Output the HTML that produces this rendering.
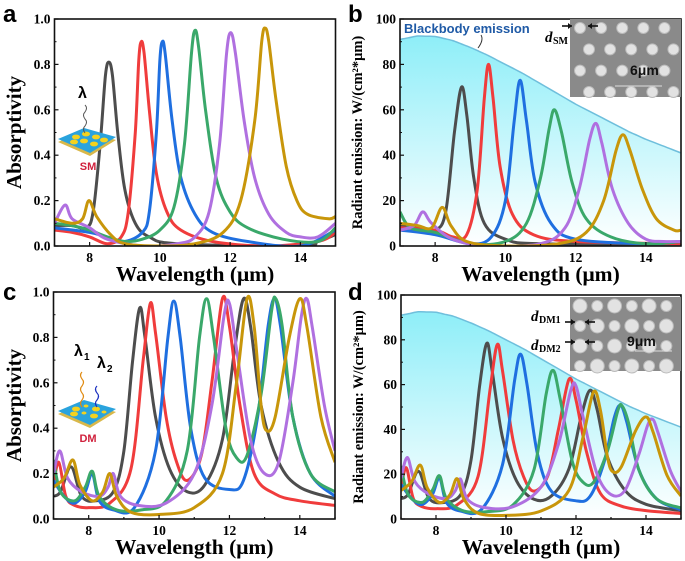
<!DOCTYPE html>
<html><head><meta charset="utf-8"><style>
html,body{margin:0;padding:0;background:#fff}
svg{display:block}
text{font-family:"Liberation Serif",serif;font-weight:bold}
.sans{font-family:"Liberation Sans",sans-serif}
</style></head><body>
<svg id="fig" width="685" height="561" viewBox="0 0 685 561" xmlns="http://www.w3.org/2000/svg">
<defs>
<linearGradient id="bbg" x1="0" y1="0" x2="0" y2="1"><stop offset="0" stop-color="#8eeef8"/><stop offset="1" stop-color="#ffffff"/></linearGradient>
</defs>
</svg>
<script>
const colors=['#4d4d4d','#f03c3c','#1f6fe0','#3aa86a','#b070e0','#c8960a'];
const xTicks=[8,10,12,14];
const absTicks=['0.0','0.2','0.4','0.6','0.8','1.0'];
const emTicks=['0','20','40','60','80','100'];
const bbX=[7,7.5,8,8.5,9,9.5,10,10.5,11,11.5,12,12.5,13,13.5,14,14.5,15];
const bbY=[91,92.5,92.3,90.5,87.5,84,80,76,71.5,67,62.5,58.5,54.5,50.5,47,44,41];
const aGray=[[7,.09],[7.5,.09],[7.9,.08],[8.1,.15],[8.3,.45],[8.45,.75],[8.55,.81],[8.65,.75],[8.8,.5],[9,.25],[9.3,.1],[9.7,.04],[10.5,.01],[14,0],[14.5,.02],[15,.05]];
const aRed=[[7,.07],[7.5,.06],[8,.04],[8.5,.01],[8.9,.04],[9.1,.15],[9.3,.5],[9.4,.82],[9.47,.9],[9.55,.85],[9.7,.6],[9.9,.32],[10.2,.15],[10.6,.07],[11.5,.02],[13,0],[14.5,.02],[15,.06]];
const aBlue=[[7,.08],[8,.06],[8.5,.04],[9,.02],[9.5,.06],[9.7,.15],[9.9,.5],[10,.82],[10.07,.9],[10.15,.85],[10.35,.55],[10.6,.3],[11,.14],[11.5,.06],[12.5,.02],[14,0],[15,.07]];
const aGreen=[[7,.1],[7.5,.09],[8,.07],[8.5,.04],[9,.02],[9.5,.03],[10,.07],[10.4,.17],[10.7,.45],[10.9,.85],[11,.95],[11.1,.88],[11.3,.6],[11.6,.3],[12,.15],[12.5,.08],[13.5,.03],[14.5,.02],[15,.08]];
const aPurple=[[7,.1],[7.3,.18],[7.5,.12],[8,.08],[8.5,.03],[9.5,0],[10.5,.01],[11,.04],[11.4,.15],[11.7,.45],[11.9,.85],[12.02,.94],[12.15,.85],[12.4,.55],[12.7,.3],[13.1,.14],[13.6,.06],[14,.04],[14.5,.04],[15,.1]];
const aGold=[[7,.12],[7.5,.1],[7.8,.12],[7.98,.2],[8.2,.13],[8.6,.05],[9,.01],[10,0],[11,.01],[11.8,.06],[12.3,.2],[12.7,.55],[12.9,.9],[13,.96],[13.1,.9],[13.3,.65],[13.6,.35],[13.9,.2],[14.2,.14],[14.8,.12],[15,.13]];
const bGray=[[7,9],[7.5,8],[8,7],[8.3,15],[8.55,50],[8.75,70],[8.9,58],[9.1,30],[9.4,10],[10,3],[11,1],[15,1]];
const bRed=[[7,8],[8,7],[8.5,4],[8.9,5],[9.2,25],[9.4,65],[9.52,80],[9.65,65],[9.85,35],[10.2,14],[10.8,5],[12,2],[15,1]];
const bBlue=[[7,7],[8,5],[9,1],[9.6,4],[10,20],[10.25,55],[10.42,73],[10.6,55],[10.85,28],[11.3,10],[12,3],[14,1],[15,2]];
const bGreen=[[7,15],[7.3,8],[8,6],[9,1],[10,2],[10.6,10],[11,30],[11.25,52],[11.4,60],[11.6,50],[11.9,28],[12.3,12],[13,4],[14,1],[15,2]];
const bPurple=[[7,7],[7.4,9],[7.65,15],[7.9,10],[8.5,3],[9.5,0],[11,1],[11.7,8],[12.1,25],[12.4,47],[12.58,54],[12.75,45],[13.05,25],[13.5,10],[14,3],[14.5,2],[15,2]];
const bGold=[[7,10],[7.5,9],[7.9,8],[8.2,17],[8.45,9],[8.9,2],[10,0],[11.5,1],[12.3,6],[12.8,20],[13.15,42],[13.35,49],[13.55,42],[13.9,25],[14.3,12],[14.8,7],[15,7]];
const cGray=[[7,.1],[7.2,.12],[7.5,.23],[7.8,.1],[8.2,.08],[8.7,.12],[9,.3],[9.25,.7],[9.45,.93],[9.6,.8],[9.9,.45],[10.3,.22],[10.8,.12],[11.3,.15],[11.8,.35],[12.15,.75],[12.4,.97],[12.6,.85],[12.9,.5],[13.4,.25],[14,.14],[15,.09]];
const cRed=[[7,.15],[7.15,.25],[7.35,.1],[7.6,.06],[8,.05],[8.6,.07],[9.2,.22],[9.55,.7],[9.75,.95],[9.9,.82],[10.2,.45],[10.5,.25],[10.8,.17],[11.2,.28],[11.5,.6],[11.8,.97],[12,.85],[12.3,.5],[12.7,.2],[13.3,.11],[14,.08],[15,.06]];
const cBlue=[[7,.17],[7.3,.1],[7.6,.07],[7.9,.12],[8.1,.2],[8.3,.08],[8.7,.04],[9.3,.05],[9.9,.3],[10.25,.8],[10.42,.96],[10.6,.8],[10.9,.4],[11.3,.18],[12,.13],[12.4,.17],[12.8,.45],[13.1,.85],[13.28,.97],[13.45,.85],[13.8,.45],[14.3,.2],[15,.1]];
const cGreen=[[7,.26],[7.2,.12],[7.6,.08],[7.9,.14],[8.1,.21],[8.3,.1],[8.8,.04],[9.5,.04],[10.2,.08],[10.8,.3],[11.15,.8],[11.35,.97],[11.55,.8],[11.9,.4],[12.2,.27],[12.5,.28],[12.9,.55],[13.2,.92],[13.32,.97],[13.5,.85],[13.8,.45],[14.3,.2],[15,.12]];
const cPurple=[[7,.2],[7.18,.3],[7.4,.18],[7.8,.12],[8.3,.1],[8.55,.14],[8.7,.2],[8.9,.1],[9.4,.06],[10.2,.07],[11,.2],[11.5,.5],[11.85,.9],[12,.95],[12.2,.75],[12.6,.35],[13,.2],[13.4,.25],[13.8,.6],[14.05,.9],[14.2,.97],[14.35,.85],[14.7,.5],[15,.3]];
const cGold=[[7,.14],[7.3,.18],[7.55,.26],[7.75,.15],[8.1,.08],[8.4,.12],[8.6,.2],[8.8,.1],[9.2,.03],[10,.02],[11,.05],[11.8,.2],[12.2,.6],[12.5,.97],[12.7,.85],[12.9,.5],[13.05,.39],[13.3,.45],[13.7,.8],[14,.97],[14.2,.85],[14.6,.45],[15,.25]];

const NS='http://www.w3.org/2000/svg';
const svg=document.getElementById('fig');
function el(tag,attrs,parent,txt){const e=document.createElementNS(NS,tag);for(const k in attrs)e.setAttribute(k,attrs[k]);if(txt!==undefined)e.textContent=txt;(parent||svg).appendChild(e);return e;}
function bb(x){for(let i=0;i<bbX.length-1;i++){if(x<=bbX[i+1]){const t=(x-bbX[i])/(bbX[i+1]-bbX[i]);return bbY[i]+t*(bbY[i+1]-bbY[i]);}}return bbY[bbY.length-1];}
function smooth(pts){let d='M'+pts[0][0].toFixed(1)+','+pts[0][1].toFixed(1);for(let i=0;i<pts.length-1;i++){const p0=pts[Math.max(0,i-1)],p1=pts[i],p2=pts[i+1],p3=pts[Math.min(pts.length-1,i+2)];const c1=[p1[0]+(p2[0]-p0[0])/6,p1[1]+(p2[1]-p0[1])/6],c2=[p2[0]-(p3[0]-p1[0])/6,p2[1]-(p3[1]-p1[1])/6];d+='C'+c1[0].toFixed(1)+','+c1[1].toFixed(1)+' '+c2[0].toFixed(1)+','+c2[1].toFixed(1)+' '+p2[0].toFixed(1)+','+p2[1].toFixed(1);}return d;}

function panel(cfg){
  const g=el('g',{});
  
  
  const sx=v=>cfg.x0+(v-7)/8*(cfg.x1-cfg.x0);
  const sy=v=>cfg.yb-(v/cfg.ymax)*(cfg.yb-cfg.yt);
  const clip='clip-'+cfg.name;
  const cp=el('clipPath',{id:clip},g);el('rect',{x:cfg.x0,y:cfg.yt-2,width:cfg.x1-cfg.x0,height:cfg.yb-cfg.yt+2},cp);
  if(cfg.bb){
    const pts=[];for(let x=7;x<=15.001;x+=0.25)pts.push([sx(x),sy(bb(x))]);
    const d=smooth(pts);
    const area=el('path',{d:d+'L'+sx(15)+','+cfg.yb+'L'+sx(7)+','+cfg.yb+'Z',fill:'url(#bbg)'},g);
    
    
    const line=el('path',{d:d,fill:'none',stroke:'#6fbfdc','stroke-width':1.5},g);
    
    
  }
  const sg=el('g',{'clip-path':'url(#'+clip+')'},g);
  cfg.series.forEach((s,i)=>{
    const pts=s.map(p=>[sx(p[0]),sy(cfg.mult?p[1]*bb(p[0]):p[1])]);
    const p=el('path',{d:smooth(pts),fill:'none',stroke:colors[i%6],'stroke-width':3,'stroke-linejoin':'round'},sg);
    
    
  });
  const fr=el('rect',{x:cfg.x0,y:cfg.yt,width:cfg.x1-cfg.x0,height:cfg.yb-cfg.yt,fill:'none',stroke:'#111','stroke-width':1.6},g);
  
  
  for(let v=7;v<=15;v++){const x=sx(v);el('line',{x1:x,x2:x,y1:cfg.yb,y2:cfg.yb-(v%2==0?4:2),stroke:'#111','stroke-width':1.2},g);}
  xTicks.forEach(v=>{const t=el('text',{x:sx(v),y:cfg.yb+16,'text-anchor':'middle','font-size':13.5},g,String(v));});
  cfg.ticks.forEach((lab,i)=>{const v=i*cfg.ymax/5;const y=sy(v);el('line',{x1:cfg.x0,x2:cfg.x0+4,y1:y,y2:y,stroke:'#111','stroke-width':1.2},g);
    if(i<5)el('line',{x1:cfg.x0,x2:cfg.x0+2,y1:sy(v+cfg.ymax/10),y2:sy(v+cfg.ymax/10),stroke:'#111','stroke-width':1},g);
    const t=el('text',{x:cfg.x0-4,y:y+4.5,'text-anchor':'end','font-size':13.5},g,lab);});
  const xt=el('text',{x:(cfg.x0+cfg.x1)/2,y:cfg.yb+35,'text-anchor':'middle','font-size':21.5},g,'Wavelength (μm)');
  
  const cy=(cfg.yt+cfg.yb)/2;
  const yt=el('text',{x:cfg.ylx,y:cy,'text-anchor':'middle','font-size':cfg.ylfs,transform:'rotate(-90 '+cfg.ylx+' '+cy+')'},g,cfg.ylabel);
  
  const L=el('text',{x:cfg.lx,y:cfg.ly,'font-size':24,class:'sans'},g,cfg.letter);
  
  return g;
}
panel({name:'panel-a',x0:54.5,x1:335.5,yt:19,yb:246,ymax:1,ticks:absTicks,series:[aGray,aRed,aBlue,aGreen,aPurple,aGold],ylabel:'Absorptivity',ylfs:21,ylx:21,letter:'a',lx:3,ly:22});
panel({name:'panel-b',x0:400,x1:681,yt:19,yb:246,ymax:100,ticks:emTicks,bb:true,series:[bGray,bRed,bBlue,bGreen,bPurple,bGold],ylabel:'Radiant emission: W/(cm²*μm)',ylfs:14.5,ylx:362,letter:'b',lx:348,ly:22});
panel({name:'panel-c',x0:53.5,x1:335,yt:292,yb:519,ymax:1,ticks:absTicks,series:[cGray,cRed,cBlue,cGreen,cPurple,cGold],ylabel:'Absorptivity',ylfs:21,ylx:21,letter:'c',lx:3,ly:300});
panel({name:'panel-d',x0:401,x1:681,yt:295,yb:519,ymax:100,ticks:emTicks,bb:true,mult:true,series:[cGray,cRed,cBlue,cGreen,cPurple,cGold],ylabel:'Radiant emission: W/(cm²*μm)',ylfs:14.5,ylx:363,letter:'d',lx:348,ly:300});

let t=el('text',{x:404,y:33,'font-size':13,fill:'#1f5aa6',class:'sans'},svg,'Blackbody emission');

el('path',{d:'M478,48 Q484,40 481,35',fill:'none',stroke:'#333','stroke-width':1},svg);
function sem(name,x,y,w,h,rows,cols,big){
  const g=el('g',{});
  el('rect',{x:x,y:y,width:w,height:h,fill:'#8a8a8a'},g);
  for(let r=0;r<rows;r++)for(let c=0;c<cols;c++){
    const off=big?0:(r%2)*9;const rad=big?((r+c)%2?5.5:7):5.5;
    el('circle',{cx:x+10+c*(w-16)/(cols-0.5)+off,cy:y+9+r*(h-14)/(rows-1),r:rad,fill:'#e2e2e2',stroke:'#bbb','stroke-width':1},g);
  }
  return g;
}
sem('sem-inset-sm',570,19,111,78,4,5,false);
sem('sem-inset-dm',570,297,111,74,4,6,true);
el('text',{x:630,y:75,'font-size':14,class:'sans',fill:'#111','font-weight':'normal'},svg,'6μm');
el('line',{x1:615,x2:662,y1:86,y2:86,stroke:'#ddd','stroke-width':1},svg);
el('text',{x:627,y:346,'font-size':14,class:'sans',fill:'#111','font-weight':'normal'},svg,'9μm');
el('line',{x1:635,x2:672,y1:351,y2:351,stroke:'#ddd','stroke-width':1},svg);
el('text',{x:545,y:42,'font-size':15,'font-style':'italic'},svg,'d');
el('text',{x:553,y:44,'font-size':10},svg,'SM');
el('text',{x:531,y:321,'font-size':15,'font-style':'italic'},svg,'d');
el('text',{x:539,y:323,'font-size':10},svg,'DM1');
el('text',{x:531,y:350,'font-size':15,'font-style':'italic'},svg,'d');
el('text',{x:539,y:352,'font-size':10},svg,'DM2');
[[562,26,572],[598,26,588],[565,322,575],[595,322,585],[565,342,575],[595,342,585]].forEach(a=>{
  el('line',{x1:a[0],x2:a[2],y1:a[1],y2:a[1],stroke:'#111','stroke-width':1.6},svg);
  const dir=a[2]>a[0]?1:-1;el('path',{d:`M${a[2]},${a[1]} l${-4*dir},-3 l0,6 Z`,fill:'#111'},svg);
});
function chip(name,x,y,label,two){
  const g=el('g',{});
  el('path',{d:`M${x},${y+14} L${x+26},${y+3} L${x+58},${y+12} L${x+32},${y+28} Z`,fill:'#d9b84a'},g);
  el('path',{d:`M${x},${y+11} L${x+26},${y} L${x+58},${y+9} L${x+32},${y+25} Z`,fill:'#2aa3dd'},g);
  [[18,9],[28,6],[38,9],[26,13],[36,16],[46,12],[16,14]].forEach((p,i)=>el('ellipse',{cx:x+p[0],cy:y+p[1],rx:two&&i%2?2.5:4,ry:two&&i%2?1.5:2.4,fill:'#f4d21f'},g));
  el('text',{x:x+30,y:y+42,'font-size':11,class:'sans',fill:'#d0203c','text-anchor':'middle'},g,label);
}
chip('schematic-sm',58,128,'SM',false);
el('path',{d:'M85,133 q-3,-4 0,-7 q3,-4 0,-7 q-3,-4 0,-7 q3,-4 0,-7',fill:'none',stroke:'#555','stroke-width':1},svg);
el('text',{x:78,y:98,'font-size':16,class:'sans'},svg,'λ');
chip('schematic-dm',58,400,'DM',true);
el('path',{d:'M82,407 q-3,-4 0,-7 q3,-4 0,-7 q-3,-4 0,-7 q3,-4 0,-7 q-3,-4 0,-7',fill:'none',stroke:'#e08a10','stroke-width':1.2},svg);
el('path',{d:'M97,407 q-3,-4 0,-7 q3,-4 0,-7 q-3,-4 0,-7',fill:'none',stroke:'#1a2fc0','stroke-width':1.2},svg);
el('text',{x:74,y:356,'font-size':16,class:'sans'},svg,'λ');
el('text',{x:84,y:360,'font-size':10,class:'sans'},svg,'1');
el('text',{x:97,y:368,'font-size':16,class:'sans'},svg,'λ');
el('text',{x:107,y:372,'font-size':10,class:'sans'},svg,'2');
</script>
</body></html>
